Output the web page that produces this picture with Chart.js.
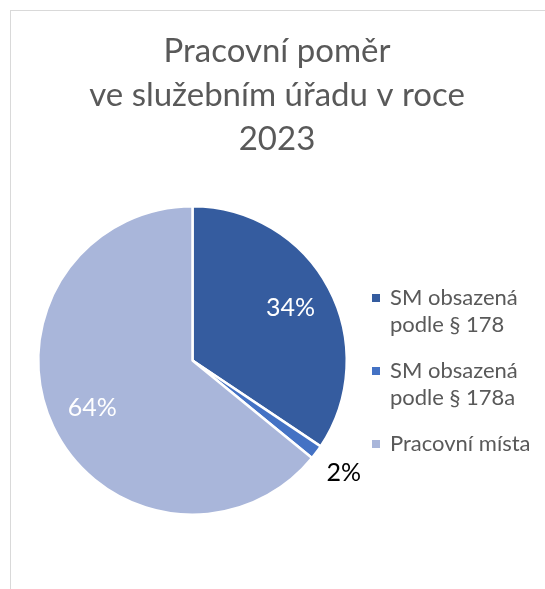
<!DOCTYPE html>
<html>
<head>
<meta charset="utf-8">
<script src="https://cdn.jsdelivr.net/npm/chart.js@4"></script>
<style>
  html, body { margin: 0; padding: 0; background: #fff; }
  #frame {
    position: absolute; left: 10px; top: 10px; width: 545px; height: 589px;
    border-left: 1px solid #d9d9d9; border-top: 1px solid #d9d9d9; box-sizing: border-box;
  }
  #wrap { position: absolute; left: 0; top: 0; width: 545px; height: 589px; }
</style>
</head>
<body>
<div id="frame"></div>
<div id="wrap"><canvas id="myChart"></canvas></div>
<script>
const titleLines = ["Pracovní poměr", "ve služebním úřadu v roce", "2023"];
const categories = [["SM obsazená", "podle § 178"], ["SM obsazená", "podle § 178a"], ["Pracovní místa"]];
const shares = [34.4, 1.5, 64.1];
const sliceColors = ["#355C9F", "#4472C4", "#A9B6DA"];

// percent labels on / beside the slices
const percentLabels = {
    id: 'percentLabels',
    afterDatasetsDraw(chart) {
        const ctx = chart.ctx;
        const meta = chart.getDatasetMeta(0);
        const total = shares.reduce((a, b) => a + b, 0);
        meta.data.forEach((arc, i) => {
            const p = arc.getProps(['x', 'y', 'startAngle', 'endAngle', 'outerRadius'], true);
            const mid = (p.startAngle + p.endAngle) / 2;
            const outside = shares[i] / total < 0.05;
            const r = p.outerRadius * (outside ? 1.22 : 0.72);
            ctx.save();
            ctx.font = '25px Lato';
            ctx.fillStyle = outside ? '#000000' : '#ffffff';
            ctx.textAlign = 'center';
            ctx.textBaseline = 'middle';
            ctx.fillText(Math.round(shares[i] / total * 100) + '%', p.x + Math.cos(mid) * r, p.y + Math.sin(mid) * r);
            ctx.restore();
        });
    }
};

// title centred over the whole card, legend to the right of the pie
const sideText = {
    id: 'sideText',
    afterDraw(chart) {
        const ctx = chart.ctx;
        ctx.save();
        ctx.fillStyle = '#595959';
        ctx.textBaseline = 'middle';
        ctx.textAlign = 'center';
        ctx.font = '33px Lato';
        titleLines.forEach((line, i) => ctx.fillText(line, 277, 51 + i * 44));

        ctx.textAlign = 'left';
        ctx.font = '22px Lato';
        let y = 298;
        categories.forEach((lines, i) => {
            ctx.fillStyle = sliceColors[i];
            ctx.fillRect(372, y - 4, 8, 8);
            ctx.fillStyle = '#595959';
            lines.forEach((line, j) => ctx.fillText(line, 390, y + j * 27));
            y += lines.length * 27 + 19;
        });
        ctx.restore();
    }
};

const ctx = document.getElementById('myChart');

new Chart(ctx, {
    type: 'pie',
    data: {
        labels: categories,
        datasets: [{
            data: shares,
            backgroundColor: sliceColors,
            borderColor: '#ffffff',
            borderWidth: 2.5
        }]
    },
    options: {
        responsive: true,
        maintainAspectRatio: false,
        animation: false,
        layout: {
            padding: { left: 37, right: 197, top: 205, bottom: 73 }
        },
        plugins: {
            title: { display: false },
            legend: { display: false },
            tooltip: { enabled: false }
        }
    },
    plugins: [percentLabels, sideText]
});
</script>
</body>
</html>
